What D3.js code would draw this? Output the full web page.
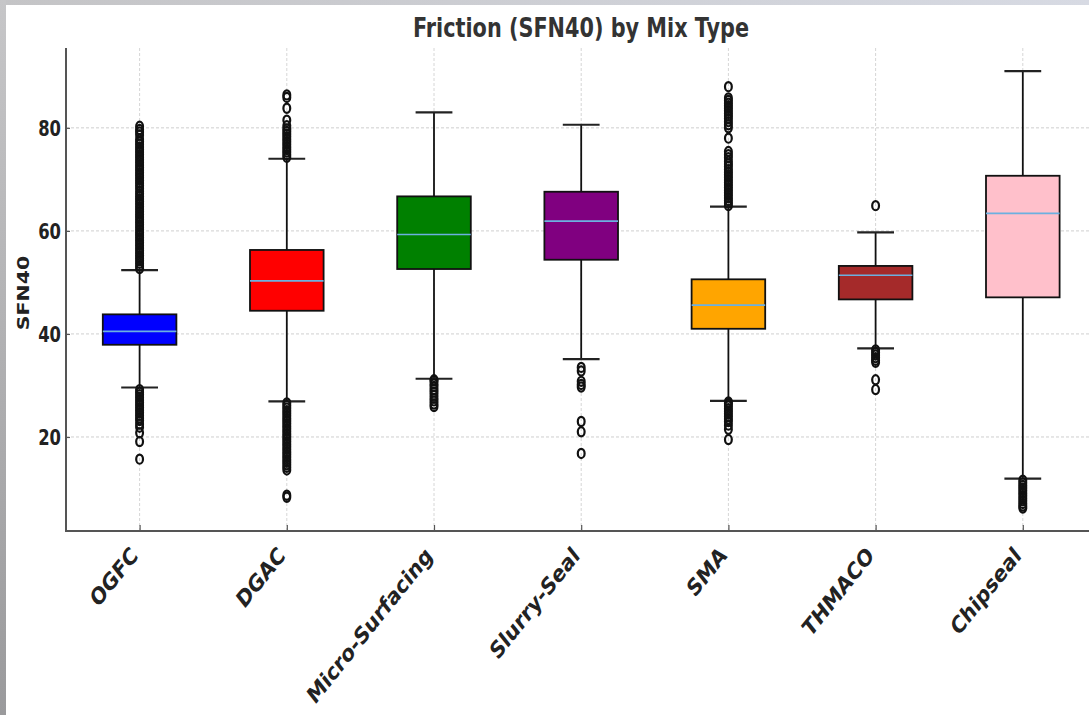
<!DOCTYPE html>
<html>
<head>
<meta http-equiv="Content-Type" content="text/html;charset=utf-8">
<script type="text/javascript" src="https://cdn.jsdelivr.net/npm/d3@7"></script>
<style>
body { margin: 0; background: #fff; }
text { font-family: "DejaVu Sans", sans-serif; font-weight: bold; }
</style>
</head>
<body>
<div id="chart"></div>
<script type="text/javascript">

// box statistics
var mixTypes = ["OGFC", "DGAC", "Micro-Surfacing", "Slurry-Seal", "SMA", "THMACO", "Chipseal"];
var boxColors = ["#0000ff", "#ff0000", "#008000", "#800080", "#ffa500", "#a52a2a", "#ffc0cb"];
var whiskerLow  = [29.6, 26.9, 31.3, 35.1, 27.0, 37.2, 11.9];
var q1          = [37.9, 44.5, 52.6, 54.4, 41.0, 46.7, 47.1];
var median      = [40.5, 50.3, 59.3, 61.9, 45.6, 51.4, 63.4];
var q3          = [43.8, 56.3, 66.7, 67.6, 50.6, 53.2, 70.7];
var whiskerHigh = [52.4, 74.0, 83.0, 80.6, 64.7, 59.7, 91.0];
var yTicks = [20, 40, 60, 80];

// outliers per mix type
var outOGFC = [15.7, 19.1, 20.8, 21.9, 22.5, 23.2, 23.7, 24.2, 24.7, 25.2, 25.7, 26.2, 26.7, 27.2, 27.7, 28.2, 28.7, 29.2,
  52.7, 53.2, 53.7, 54.2, 54.7, 55.2, 55.7, 56.2, 56.7, 57.2, 57.7, 58.2, 58.7, 59.2, 59.7, 60.2, 60.7, 61.2, 61.7,
  62.2, 62.7, 63.2, 63.7, 64.2, 64.7, 65.2, 65.7, 66.2, 66.7, 67.2, 67.7, 68.3, 68.8, 69.3, 69.8, 70.3, 70.8, 71.3,
  71.8, 72.3, 72.8, 73.3, 73.8, 74.3, 74.8, 75.3, 75.8, 76.3, 76.8, 77.3, 77.8, 78.6, 79.2, 79.7, 80.3];
var outDGAC = [8.3, 8.7, 13.6, 14.1, 14.6, 15.1, 15.6, 16.1, 16.6, 17.1, 17.6, 18.1, 18.6, 19.1, 19.6, 20.1, 20.6, 21.1,
  21.6, 22.1, 22.6, 23.1, 23.6, 24.1, 24.6, 25.1, 25.6, 26.1, 26.6,
  74.3, 74.8, 75.3, 75.8, 76.3, 76.8, 77.3, 77.8, 78.3, 78.8, 79.3, 79.8, 80.4, 81.5, 83.8, 85.9, 86.4];
var outMicro = [25.9, 26.4, 27.0, 27.5, 28.1, 28.7, 29.2, 29.8, 30.3, 30.9, 31.1];
var outSlurry = [16.8, 21.0, 23.0, 29.7, 30.2, 30.8, 32.8, 33.5];
var outSMA = [19.5, 21.5, 22.3, 23.0, 23.5, 24.0, 24.5, 25.0, 25.5, 26.0, 26.5, 26.8,
  64.9, 65.4, 65.9, 66.4, 66.9, 67.4, 67.9, 68.4, 68.9, 69.4, 69.9, 70.4, 70.9, 71.4, 71.9, 72.5, 73.0, 73.5,
  74.2, 74.8, 75.4, 78.0, 80.0, 80.6, 81.2, 81.8, 82.3, 82.8, 83.3, 83.8, 84.3, 84.8, 85.3, 85.8, 88.0];
var outTHMACO = [29.2, 31.1, 34.5, 34.9, 35.4, 35.9, 36.4, 36.9, 64.9];
var outChipseal = [6.2, 6.6, 7.1, 7.6, 8.1, 8.6, 9.1, 9.6, 10.1, 10.6, 11.1, 11.6];
var outliers = [outOGFC, outDGAC, outMicro, outSlurry, outSMA, outTHMACO, outChipseal];

var W = 1089, H = 715;
var squeeze = 0.8;   // the picture is narrower than it is tall, text too

var svg = d3.select("#chart").append("svg")
    .attr("width", W)
    .attr("height", H);

// grey frame at top and left
var defs = svg.append("defs");
var gTop = defs.append("linearGradient").attr("id", "gTop");
gTop.append("stop").attr("offset", "0%").attr("stop-color", "#c4c4c6");
gTop.append("stop").attr("offset", "100%").attr("stop-color", "#d7dae3");
var gLeft = defs.append("linearGradient").attr("id", "gLeft")
    .attr("x1", 0).attr("y1", 0).attr("x2", 0).attr("y2", 1);
gLeft.append("stop").attr("offset", "0%").attr("stop-color", "#c6c6c8");
gLeft.append("stop").attr("offset", "100%").attr("stop-color", "#9a9a9c");
svg.append("rect").attr("width", W).attr("height", 5).attr("fill", "url(#gTop)");
svg.append("rect").attr("y", 0).attr("width", 6).attr("height", H).attr("fill", "url(#gLeft)");

var axLeft = 66, axBottom = 531, axTop = 48;
var x = d3.scaleLinear().domain([0.5, 7.5]).range([axLeft, 1096.4]);
var y = d3.scaleLinear().domain([1.75, 95.5]).range([axBottom, axTop]);

var plot = svg.append("g");

// grid
plot.selectAll(".hgrid").data(yTicks).enter().append("line")
    .attr("x1", axLeft).attr("x2", W)
    .attr("y1", function (d) { return y(d); })
    .attr("y2", function (d) { return y(d); })
    .attr("stroke", "#cfcfcf").attr("stroke-width", 1)
    .attr("stroke-dasharray", "3,2");
plot.selectAll(".vgrid").data(mixTypes).enter().append("line")
    .attr("x1", function (d, i) { return x(i + 1); })
    .attr("x2", function (d, i) { return x(i + 1); })
    .attr("y1", axTop).attr("y2", axBottom)
    .attr("stroke", "#d6d6d6").attr("stroke-width", 1)
    .attr("stroke-dasharray", "3,2");

var boxW = x(1.25) - x(1);
var capW = x(1.125) - x(1);

var groups = plot.selectAll(".mix").data(mixTypes).enter().append("g").attr("class", "mix");

// whiskers
groups.append("line")
    .attr("x1", function (d, i) { return x(i + 1); })
    .attr("x2", function (d, i) { return x(i + 1); })
    .attr("y1", function (d, i) { return y(whiskerLow[i]); })
    .attr("y2", function (d, i) { return y(q1[i]); })
    .attr("stroke", "#111").attr("stroke-width", 1.8);
groups.append("line")
    .attr("x1", function (d, i) { return x(i + 1); })
    .attr("x2", function (d, i) { return x(i + 1); })
    .attr("y1", function (d, i) { return y(q3[i]); })
    .attr("y2", function (d, i) { return y(whiskerHigh[i]); })
    .attr("stroke", "#111").attr("stroke-width", 1.8);
// caps
[whiskerLow, whiskerHigh].forEach(function (arr) {
  groups.append("line")
      .attr("x1", function (d, i) { return x(i + 1) - capW; })
      .attr("x2", function (d, i) { return x(i + 1) + capW; })
      .attr("y1", function (d, i) { return y(arr[i]); })
      .attr("y2", function (d, i) { return y(arr[i]); })
      .attr("stroke", "#222").attr("stroke-width", 2.2);
});
// boxes
groups.append("rect")
    .attr("x", function (d, i) { return x(i + 1) - boxW; })
    .attr("width", boxW * 2)
    .attr("y", function (d, i) { return y(q3[i]); })
    .attr("height", function (d, i) { return y(q1[i]) - y(q3[i]); })
    .attr("fill", function (d, i) { return boxColors[i]; })
    .attr("stroke", "#111").attr("stroke-width", 1.8);
// medians
groups.append("line")
    .attr("x1", function (d, i) { return x(i + 1) - boxW; })
    .attr("x2", function (d, i) { return x(i + 1) + boxW; })
    .attr("y1", function (d, i) { return y(median[i]); })
    .attr("y2", function (d, i) { return y(median[i]); })
    .attr("stroke", "#6cb0e0").attr("stroke-width", 1.6);
// outliers
groups.each(function (d, i) {
  d3.select(this).selectAll("ellipse").data(outliers[i]).enter().append("ellipse")
      .attr("cx", x(i + 1))
      .attr("cy", function (v) { return y(v); })
      .attr("rx", 3.4).attr("ry", 4.6)
      .attr("fill", "none")
      .attr("stroke", "#111").attr("stroke-width", 2.2);
});

// axes
var yAxis = d3.axisLeft(y).tickValues(yTicks).tickSizeInner(-4).tickSizeOuter(0).tickPadding(0);
var gy = svg.append("g").attr("transform", "translate(" + axLeft + ",0)").call(yAxis);
gy.select(".domain").remove();
gy.selectAll(".tick line").attr("stroke", "#555").attr("stroke-width", 1.2);
gy.selectAll(".tick text")
    .attr("x", null).attr("dy", null)
    .attr("transform", "translate(-5,8) scale(" + squeeze + ",1)")
    .attr("fill", "#222")
    .style("font-size", "20.5px");

var xAxis = d3.axisBottom(x).tickValues([1, 2, 3, 4, 5, 6, 7])
    .tickFormat(function (d) { return mixTypes[d - 1]; })
    .tickSizeInner(-6).tickSizeOuter(0);
var gx = svg.append("g").attr("transform", "translate(0," + axBottom + ")").call(xAxis);
gx.select(".domain").remove();
gx.selectAll(".tick line").attr("stroke", "#555").attr("stroke-width", 1.2);
gx.selectAll(".tick text")
    .attr("y", null).attr("dy", null)
    .attr("text-anchor", "end")
    .attr("transform", "translate(-1,26) scale(" + squeeze + ",1) rotate(-45)")
    .attr("fill", "#222")
    .style("font-size", "23.5px");

// spines
svg.append("line").attr("x1", axLeft).attr("x2", axLeft).attr("y1", axTop).attr("y2", axBottom + 1)
    .attr("stroke", "#555").attr("stroke-width", 2);
svg.append("line").attr("x1", axLeft - 1).attr("x2", W).attr("y1", axBottom).attr("y2", axBottom)
    .attr("stroke", "#555").attr("stroke-width", 2);

// labels
svg.append("text")
    .attr("transform", "translate(581,37) scale(" + squeeze + ",1)")
    .attr("text-anchor", "middle")
    .attr("fill", "#333")
    .style("font-size", "26px")
    .text("Friction (SFN40) by Mix Type");
svg.append("text")
    .attr("transform", "translate(29,293) scale(" + squeeze + ",1) rotate(-90)")
    .attr("text-anchor", "middle")
    .attr("fill", "#222")
    .style("font-size", "20.5px")
    .text("SFN40");

</script>
</body>
</html>
